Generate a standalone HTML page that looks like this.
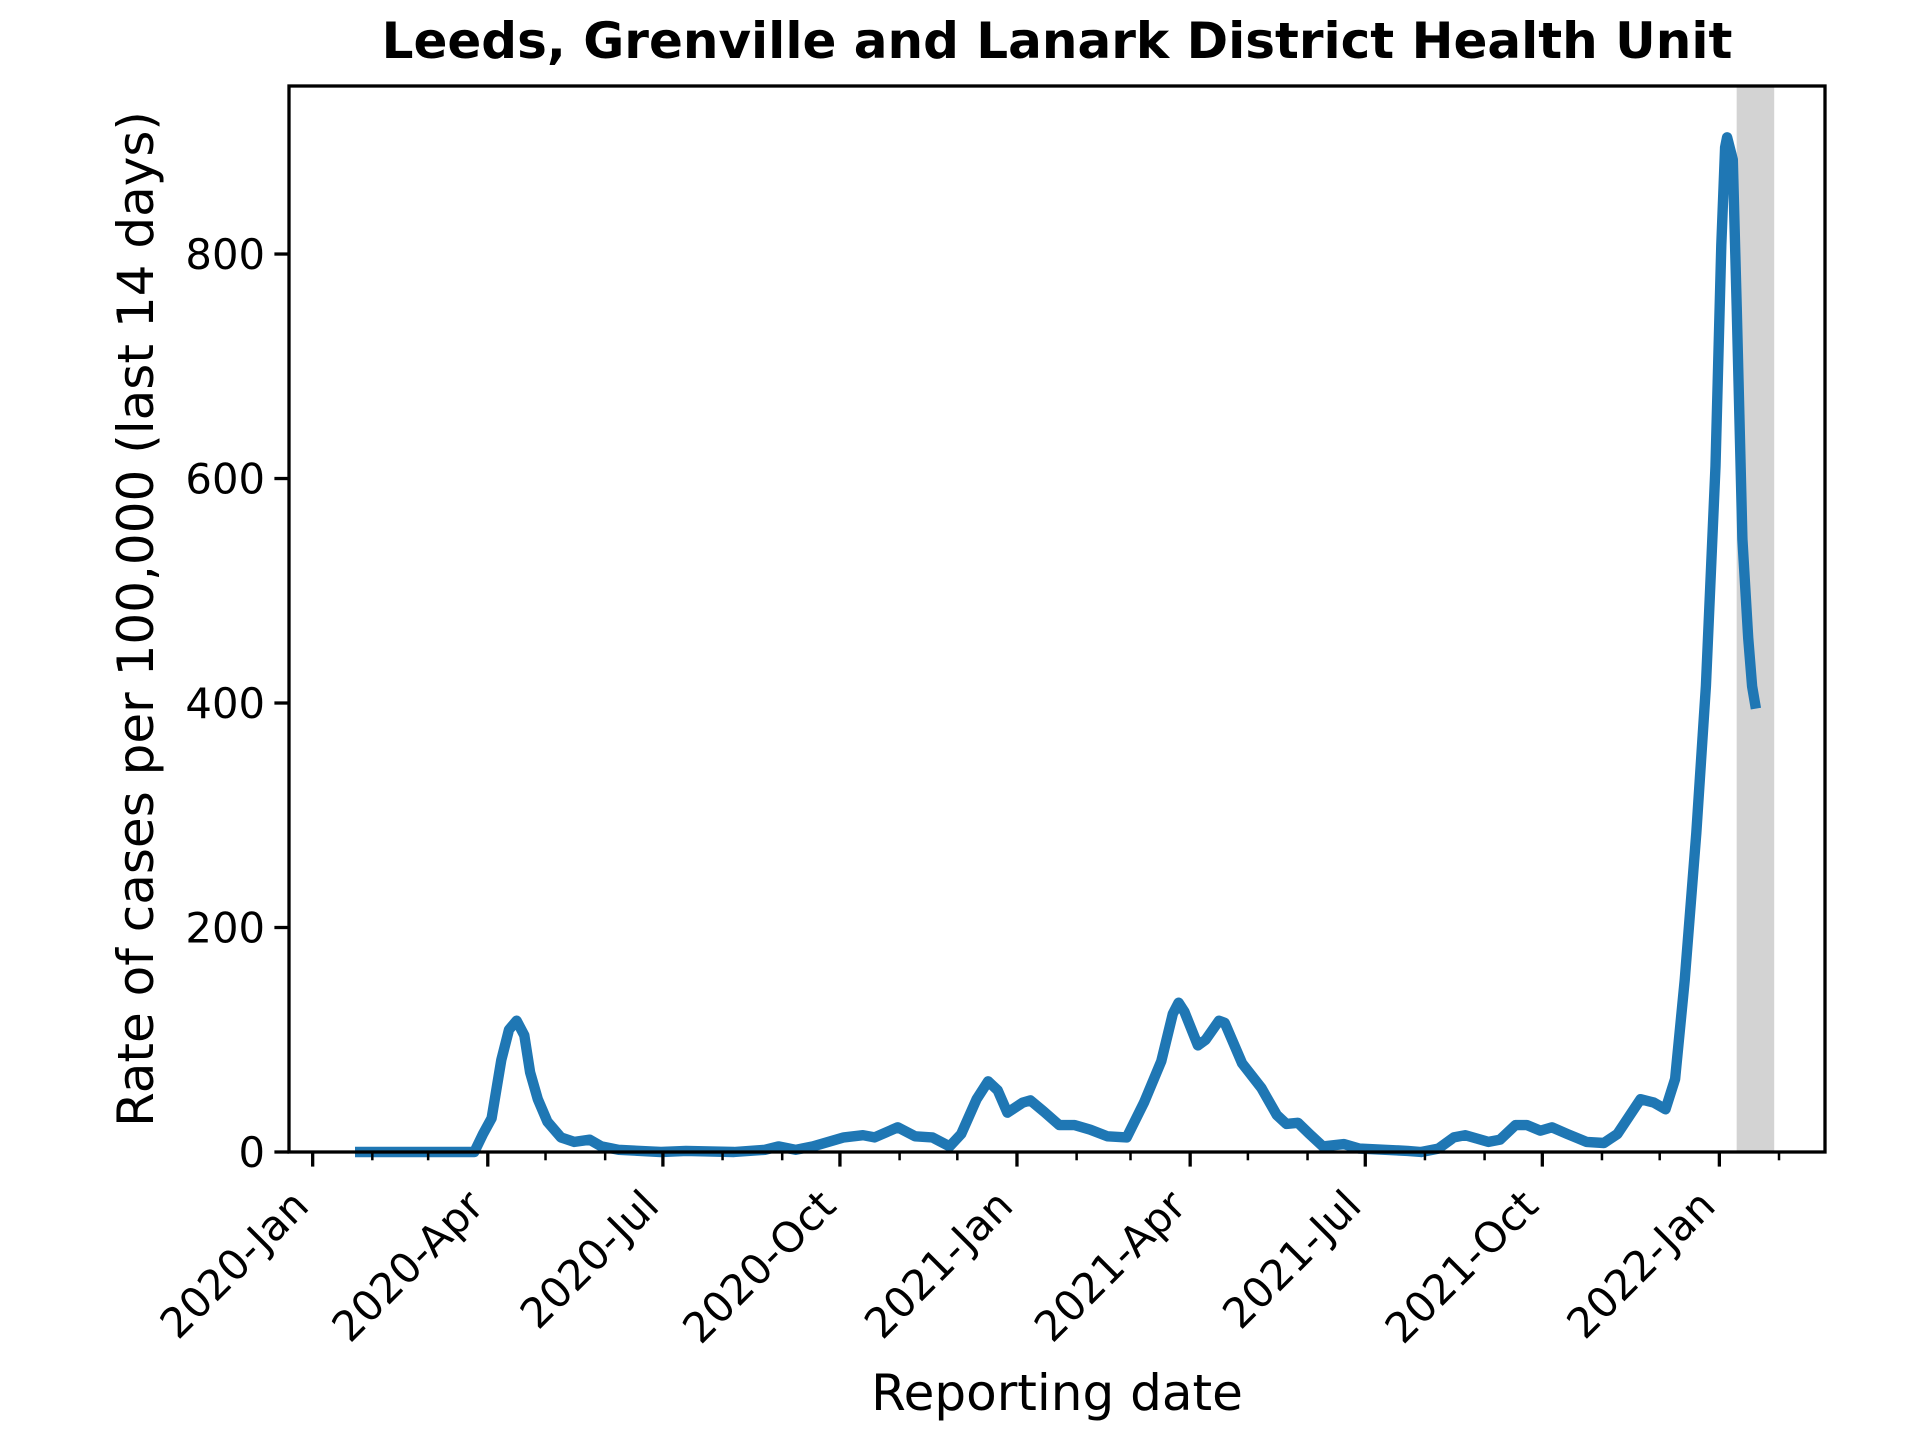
<!DOCTYPE html>
<html><head><meta charset="utf-8"><style>
html,body{margin:0;padding:0;background:#fff;}
svg{display:block;font-family:"DejaVu Sans","Liberation Sans",sans-serif;}
</style></head><body>
<svg id="chart" width="1920" height="1440" viewBox="0 0 1920 1440" xmlns="http://www.w3.org/2000/svg">
<rect width="1920" height="1440" fill="#fff"/>
<text x="1057" y="58" text-anchor="middle" font-size="50" font-weight="bold">Leeds, Grenville and Lanark District Health Unit</text>
<g id="plot"></g>
<text x="1057" y="1410" text-anchor="middle" font-size="50">Reporting date</text>
<text transform="translate(153,619) rotate(-90)" text-anchor="middle" font-size="50">Rate of cases per 100,000 (last 14 days)</text>
</svg>
<script>
// days since 2020-01-01
const dayValues = [22,84,88.5,93,98,102,106,110,113,117,122,129,136,144,150,159,181,194,219,235,242,251,260,276,286,292,304,313,322,331,337,345,351,356,361,369,373,380,388,396,404,413,423,432,441,447,450,453,460,464,471,474,483,493,501,506,512,518,525,536,544,569,576,585,593,599,611,617,625,631,638,644,652,662,671,678,690,697,703,708,713,719,724,729,732,734,735,738,740,743,746,748,750];
const rateValues = [0,0,16,30,82,109,117,104,71,47,27,13,9,11,5,2,0,1,0,2,5,2,5,13,15,13,22,14,13,5,16,47,63,55,35,44,46,36,24,24,20,14,13,44,81,123,133,125,95,100,117,115,79,57,33,25,26,16,5,7,3,1,0,3,13,15,9,11,24,24,19,22,16,9,8,16,47,44,38,65,153,284,415,611,808,895,904,884,753,546,458,415,395];
const yTicks = [0,200,400,600,800];
const majorTickLabels = ["2020-Jan","2020-Apr","2020-Jul","2020-Oct","2021-Jan","2021-Apr","2021-Jul","2021-Oct","2022-Jan"];
const shadeStart = 740, shadeEnd = 759.5;

const L=289, R=1825, T=86, B=1152;
const dMin=-12.3, dMax=785.9, vMax=949.7;
const xs = d => L + (d-dMin)/(dMax-dMin)*(R-L);
const ys = v => B - v/vMax*(B-T);
const NS="http://www.w3.org/2000/svg";
const g=document.getElementById('plot');
function mk(tag, attrs){const e=document.createElementNS(NS,tag);for(const k in attrs)e.setAttribute(k,attrs[k]);g.appendChild(e);return e;}

const sh=mk('rect',{x:xs(shadeStart),y:T,width:xs(shadeEnd)-xs(shadeStart),height:B-T,fill:'#d3d3d3'});



let d='';
dayValues.forEach((dd,i)=>{d+=(i?'L':'M')+xs(dd).toFixed(1)+','+ys(rateValues[i]).toFixed(1);});
const ln=mk('path',{d:d,fill:'none',stroke:'#1f77b4','stroke-width':10.4,'stroke-linejoin':'round','stroke-linecap':'butt'});



const fr=mk('rect',{x:L,y:T,width:R-L,height:B-T,fill:'none',stroke:'#000','stroke-width':3.3});



yTicks.forEach(v=>{
  const y=ys(v);
  const t=mk('line',{x1:L-14.6,x2:L,y1:y,y2:y,stroke:'#000','stroke-width':3.3});
  
  
  const lb=mk('text',{x:L-24,y:y+15,'text-anchor':'end','font-size':41.7});
  lb.textContent=v;
  
  
});

const base=Date.UTC(2020,0,1);
for(let m=0;m<26;m++){
  const day=(Date.UTC(2020,m,1)-base)/86400000;
  const x=xs(day);
  const major=m%3===0;
  const t=mk('line',{x1:x,x2:x,y1:B,y2:B+(major?14.6:8.3),stroke:'#000','stroke-width':major?3.3:2.5});
  
  
  if(major){
    const lb=mk('text',{transform:`translate(${x-24},${B+34}) rotate(-45)`,'text-anchor':'end','font-size':41.7,dy:'0.75em'});
    lb.textContent=majorTickLabels[m/3];
    
    
  }
}
</script>
</body></html>
